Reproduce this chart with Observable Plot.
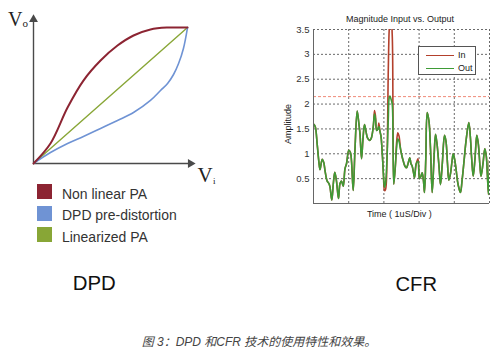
<!DOCTYPE html>
<html><head><meta charset="utf-8">
<script src="https://cdn.jsdelivr.net/npm/d3@7"></script>
<script src="https://cdn.jsdelivr.net/npm/@observablehq/plot@0.6"></script>
<style>
html,body{margin:0;padding:0;background:#fff;}
#root{position:relative;width:500px;height:353px;overflow:hidden;font-family:"Liberation Sans",Arial,sans-serif;}
.abs{position:absolute;white-space:nowrap;}
#root svg{position:absolute;overflow:visible;}
</style></head><body><div id="root"></div>
<script>
// ---------- DPD panel data (normalised Vi / Vo) ----------
const curveNames  = ["Non linear PA", "DPD pre-distortion", "Linearized PA"];
const curveColors = ["#8c2432", "#6f93d4", "#88a636"];
const nonlinVi = [0, 0.108, 0.217, 0.318, 0.427, 0.535, 0.637, 0.745, 0.854, 0.981];
const nonlinVo = [0, 0.139, 0.389, 0.576, 0.715, 0.819, 0.889, 0.931, 0.944, 0.944];
const dpdVi = [0, 0.108, 0.217, 0.318, 0.427, 0.535, 0.637, 0.745, 0.809, 0.854, 0.892, 0.924, 0.955, 0.981];
const dpdVo = [0, 0.076, 0.139, 0.188, 0.243, 0.299, 0.354, 0.438, 0.507, 0.556, 0.618, 0.694, 0.799, 0.944];
const linVi = [0, 0.981];
const linVo = [0, 0.944];

// ---------- CFR panel data ----------
const timeDiv = [0.000,0.048,0.105,0.151,0.185,0.247,0.293,0.327,0.389,0.440,
0.469,0.520,0.563,0.605,0.653,0.710,0.753,0.795,0.844,0.895,
0.938,1.003,1.051,1.080,1.128,1.179,1.241,1.287,1.321,1.364,
1.406,1.449,1.491,1.534,1.591,1.634,1.670,1.705,1.733,1.761,
1.795,1.832,1.855,1.889,1.918,1.960,1.989,2.017,2.045,2.088,
2.125,2.151,2.173,2.202,2.236,2.259,2.281,2.330,2.358,2.395,
2.429,2.472,2.514,2.548,2.599,2.642,2.685,2.736,2.770,2.804,
2.841,2.869,2.918,2.969,3.011,3.054,3.088,3.125,3.153,3.190,
3.230,3.281,3.324,3.372,3.423,3.466,3.509,3.565,3.608,3.659,
3.722,3.764,3.807,3.844,3.892,3.935,3.969,4.006,4.048,4.091,
4.134,4.176,4.219,4.276,4.332,4.412,4.455,4.494,4.537,4.588,
4.639,4.682,4.730,4.759,4.815,4.867,4.909,4.938,4.972,5.000];
const outAmp = [1.60,1.55,1.19,0.85,0.68,0.89,0.82,0.66,0.45,0.40,
0.33,0.07,0.40,0.63,0.45,0.10,0.40,0.45,0.35,0.70,
0.80,1.07,1.02,0.85,0.26,1.10,1.86,1.62,1.40,0.90,
1.30,1.59,1.45,1.32,1.27,1.30,1.40,1.60,1.80,1.70,
1.47,1.50,1.55,1.45,1.35,0.93,0.55,0.33,0.40,0.90,
1.70,2.13,2.16,2.10,2.00,1.20,0.39,0.80,1.10,1.30,
1.25,1.10,0.95,0.86,0.75,0.72,0.80,0.92,0.80,0.75,
0.62,0.52,0.80,0.85,0.50,0.55,0.62,0.45,0.22,0.90,
1.83,1.65,1.10,0.22,0.90,1.39,1.20,0.75,0.38,0.80,
1.37,1.25,0.80,0.47,0.60,0.85,1.00,0.90,0.70,0.45,
0.30,0.22,0.45,0.85,1.25,1.63,1.35,0.90,0.55,0.90,
1.37,1.20,0.75,0.55,0.80,1.10,0.95,0.60,0.18,0.86];
const inAmp = [1.60,1.55,1.19,0.85,0.68,0.89,0.82,0.66,0.45,0.40,
0.33,0.07,0.40,0.63,0.45,0.10,0.40,0.45,0.35,0.70,
0.80,1.07,1.02,0.85,0.26,1.10,1.86,1.62,1.40,0.90,
1.30,1.59,1.45,1.32,1.27,1.30,1.40,1.60,1.87,1.76,
1.47,1.50,1.62,1.45,1.35,0.93,0.55,0.26,0.28,0.90,
2.70,3.50,3.70,3.70,3.40,1.70,0.39,0.80,1.20,1.42,
1.36,1.10,0.95,0.86,0.75,0.72,0.80,0.92,0.80,0.75,
0.62,0.52,0.80,0.90,0.50,0.55,0.62,0.45,0.22,0.90,
1.83,1.65,1.10,0.22,0.90,1.39,1.20,0.75,0.38,0.80,
1.37,1.25,0.80,0.47,0.60,0.85,1.00,0.90,0.70,0.45,
0.30,0.22,0.45,0.85,1.25,1.63,1.35,0.90,0.55,0.90,
1.37,1.20,0.75,0.55,0.80,1.10,0.95,0.60,0.18,0.86];
const seriesNames  = ["In", "Out"];
const seriesColors = ["#b3402c", "#3e9b36"];
const yTicks = [0.5, 1, 1.5, 2, 2.5, 3, 3.5];
const xGrid  = [1, 2, 3, 4, 5];
const clipLevel = [2.15];

const titleText  = "Magnitude Input vs. Output";
const xLabelText = "Time ( 1uS/Div )";
const yLabelText = "Amplitude";
const captionText = "图 3：DPD 和CFR 技术的使用特性和效果。";

// ---------- build ----------
const root = document.getElementById("root");
const zip = (xs, ys) => xs.map((x, i) => ({x, y: ys[i]}));

function put(el, x, y) { el.style.left = x + "px"; el.style.top = y + "px"; root.appendChild(el); return el; }
function label(text, x, baseline, size, css = {}) {
  const d = document.createElement("div");
  d.className = "abs";
  d.textContent = text;
  d.style.fontSize = size + "px";
  d.style.lineHeight = size + "px";
  Object.assign(d.style, css);
  return put(d, x, baseline - 0.8465 * size);
}

// Left (DPD) chart
const axisCol = "#4a4a4a";
const left = Plot.plot({
  width: 215, height: 190,
  marginLeft: 33, marginRight: 25, marginTop: 19, marginBottom: 27,
  x: {domain: [0, 1], axis: null},
  y: {domain: [0, 1], axis: null},
  style: {background: "transparent"},
  marks: [
    Plot.ruleY([0], {x1: 0, x2: 1, stroke: axisCol, strokeWidth: 1.4}),
    Plot.ruleX([0], {y1: 0, y2: 1, stroke: axisCol, strokeWidth: 1.4}),
    Plot.dot([{x: 1, y: 0, a: 90}, {x: 0, y: 1, a: 0}], {x: "x", y: "y", rotate: "a", symbol: "triangle", r: 3.3, fill: axisCol}),
    Plot.line(zip(linVi, linVo), {x: "x", y: "y", stroke: curveColors[2], strokeWidth: 1.4}),
    Plot.line(zip(dpdVi, dpdVo), {x: "x", y: "y", stroke: curveColors[1], strokeWidth: 1.6, curve: "catmull-rom"}),
    Plot.line(zip(nonlinVi, nonlinVo), {x: "x", y: "y", stroke: curveColors[0], strokeWidth: 2, curve: "catmull-rom"})
  ]
});
put(left, 0, 0);

// V labels
label("V", 8, 25.5, 20, {fontFamily: "'Liberation Serif','Times New Roman',serif", color: "#222"});
label("o", 22.5, 27.5, 11, {fontFamily: "'Liberation Serif','Times New Roman',serif", color: "#222"});
label("V", 197.5, 182.5, 21, {fontFamily: "'Liberation Serif','Times New Roman',serif", color: "#222"});
label("i", 213, 184.5, 9, {fontFamily: "'Liberation Serif','Times New Roman',serif", color: "#222"});

// DPD legend
const legBase = [199.3, 220.5, 242];
curveNames.forEach((n, i) => {
  const sq = document.createElement("div");
  sq.className = "abs";
  Object.assign(sq.style, {width: "15px", height: "15px", background: curveColors[i]});
  put(sq, 37, legBase[i] - 15);
  label(n, 61.5, legBase[i], 15.5, {color: "#333", transform: "scaleX(0.9)", transformOrigin: "0 0"});
});

label("DPD", 72.8, 290.7, 20.4, {color: "#111"});
label("CFR", 395.5, 291.5, 20.2, {color: "#111"});

// Right (CFR) chart
const sig = timeDiv.map((t, i) => ({t, inV: inAmp[i], outV: outAmp[i]}));
const gridCol = "#6a6a6a";
const right = Plot.plot({
  width: 240, height: 230,
  marginLeft: 53, marginRight: 11, marginTop: 29, marginBottom: 27,
  x: {domain: [0, 5], axis: null},
  y: {domain: [0, 3.5], axis: null},
  style: {background: "transparent", color: "#333", fontFamily: "'Liberation Sans',Arial,sans-serif"},
  marks: [
    Plot.ruleX(xGrid, {stroke: gridCol, strokeDasharray: "2,2", strokeWidth: 1}),
    Plot.ruleY(yTicks, {stroke: gridCol, strokeDasharray: "2,2", strokeWidth: 1}),
    Plot.ruleY(clipLevel, {stroke: "#ef8a78", strokeDasharray: "3,2", strokeWidth: 1}),
    Plot.line(sig, {x: "t", y: "inV", stroke: seriesColors[0], strokeWidth: 1.6, curve: "catmull-rom", clip: true}),
    Plot.line(sig, {x: "t", y: "outV", stroke: seriesColors[1], strokeWidth: 1.6, curve: "catmull-rom", clip: true}),
    Plot.ruleX([0], {stroke: "#666", strokeWidth: 1}),
    Plot.ruleY([0], {stroke: "#666", strokeWidth: 1}),
    Plot.axisY(yTicks, {tickSize: 0, tickPadding: 4, fontSize: 9.5, label: null, tickFormat: d => String(d)})
  ]
});
put(right, 260, 0);

label(titleText, 400, 22.5, 9, {color: "#222", transform: "translateX(-50%)"});
label(xLabelText, 399.3, 218, 9, {color: "#222", transform: "translateX(-50%)"});
label(yLabelText, 288, 132, 9, {color: "#222", transform: "translate(-50%,-50%) rotate(-90deg)"});

// CFR legend box
const lg = document.createElement("div");
lg.className = "abs";
Object.assign(lg.style, {width: "58px", height: "29px", border: "1px solid #555", background: "#fff", boxSizing: "border-box"});
put(lg, 418, 46);
seriesNames.forEach((n, i) => {
  const ln = document.createElement("div");
  ln.className = "abs";
  Object.assign(ln.style, {width: "28px", height: "0px", borderTop: "1.6px solid " + seriesColors[i]});
  ln.style.left = "7px"; ln.style.top = (7.5 + i * 13) + "px";
  lg.appendChild(ln);
  const t = document.createElement("div");
  t.className = "abs";
  t.textContent = n;
  Object.assign(t.style, {fontSize: "9px", lineHeight: "9px", color: "#222", left: "39px", top: (3.5 + i * 13) + "px"});
  lg.appendChild(t);
});

// caption
label(captionText, 259, 346.5, 12, {fontFamily: "'Liberation Sans','Noto Sans CJK SC',sans-serif", fontStyle: "italic", color: "#444", transform: "translateX(-50%)"});
</script>
</body></html>
